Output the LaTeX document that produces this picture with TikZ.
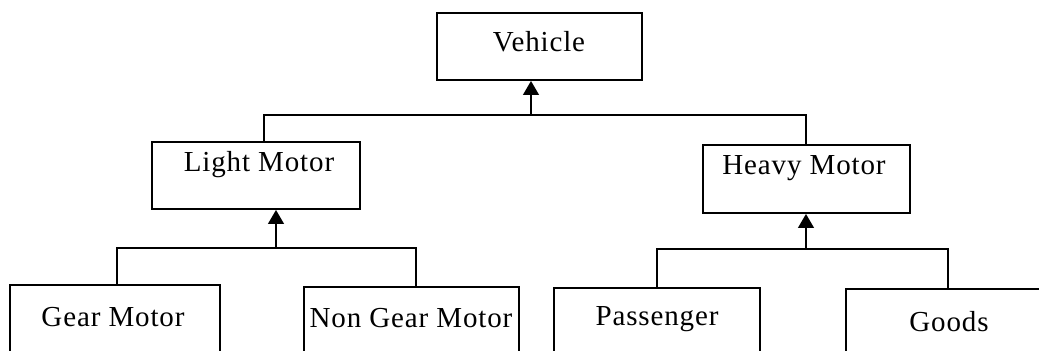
\documentclass[tikz,border=0pt]{standalone}
\usepackage{fontspec}
\setmainfont{Liberation Serif}
\usetikzlibrary{arrows.meta}
\begin{document}
\begin{tikzpicture}[x=0.02cm,y=-0.02cm,
  box/.style={draw,line width=1.1pt,rectangle,inner sep=0pt,anchor=north west},
  lbl/.style={anchor=base,inner sep=0pt,font=\fontsize{16.5}{19}\selectfont\addfontfeature{LetterSpace=3}},
  link/.style={line width=1.1pt},
  arr/.style={line width=1.1pt,-{Triangle[width=9pt,length=8pt]}}]
\useasboundingbox (0,0) rectangle (1039,351);
\clip (0,0) rectangle (1039,351);
% boxes
\node[box,minimum width=205*0.02cm,minimum height=67*0.02cm] (veh) at (436,12) {};
\node[box,minimum width=208*0.02cm,minimum height=67*0.02cm] (lm) at (151,141) {};
\node[box,minimum width=207*0.02cm,minimum height=68*0.02cm] (hm) at (702,144) {};
\node[box,minimum width=210*0.02cm,minimum height=80*0.02cm] (gm) at (9,284) {};
\node[box,minimum width=215*0.02cm,minimum height=80*0.02cm] (ngm) at (303,286) {};
\node[box,minimum width=206*0.02cm,minimum height=80*0.02cm] (pas) at (553,287) {};
\node[box,minimum width=210*0.02cm,minimum height=80*0.02cm] (goo) at (845,288) {};
% labels
\node[lbl] (tveh) at (539,52) {Vehicle};
\node[lbl] (tlm) at (259,172) {Light Motor};
\node[lbl] (thm) at (804,175) {Heavy Motor};
\node[lbl] (tgm) at (113,327) {Gear Motor};
\node[lbl] (tngm) at (411,328) {Non Gear Motor};
\node[lbl] (tpas) at (657,326) {Passenger};
\node[lbl] (tgoo) at (949,332) {Goods};
% junctions
\coordinate (j1) at (531,115);
\coordinate (j1l) at (264,115);
\coordinate (j1r) at (806,115);
\coordinate (j2) at (276,248);
\coordinate (j2l) at (117,248);
\coordinate (j2r) at (416,248);
\coordinate (j3) at (806,249);
\coordinate (j3l) at (657,249);
\coordinate (j3r) at (948,249);
% connectors
\draw[link] (lm.north -| j1l) -- (j1l) -- (j1r) -- (hm.north -| j1r);
\draw[arr] (j1) -- (veh.south -| j1);
\draw[link] (gm.north -| j2l) -- (j2l) -- (j2r) -- (ngm.north -| j2r);
\draw[arr] (j2) -- (lm.south -| j2);
\draw[link] (pas.north -| j3l) -- (j3l) -- (j3r) -- (goo.north -| j3r);
\draw[arr] (j3) -- (hm.south -| j3);
\end{tikzpicture}
\end{document}
